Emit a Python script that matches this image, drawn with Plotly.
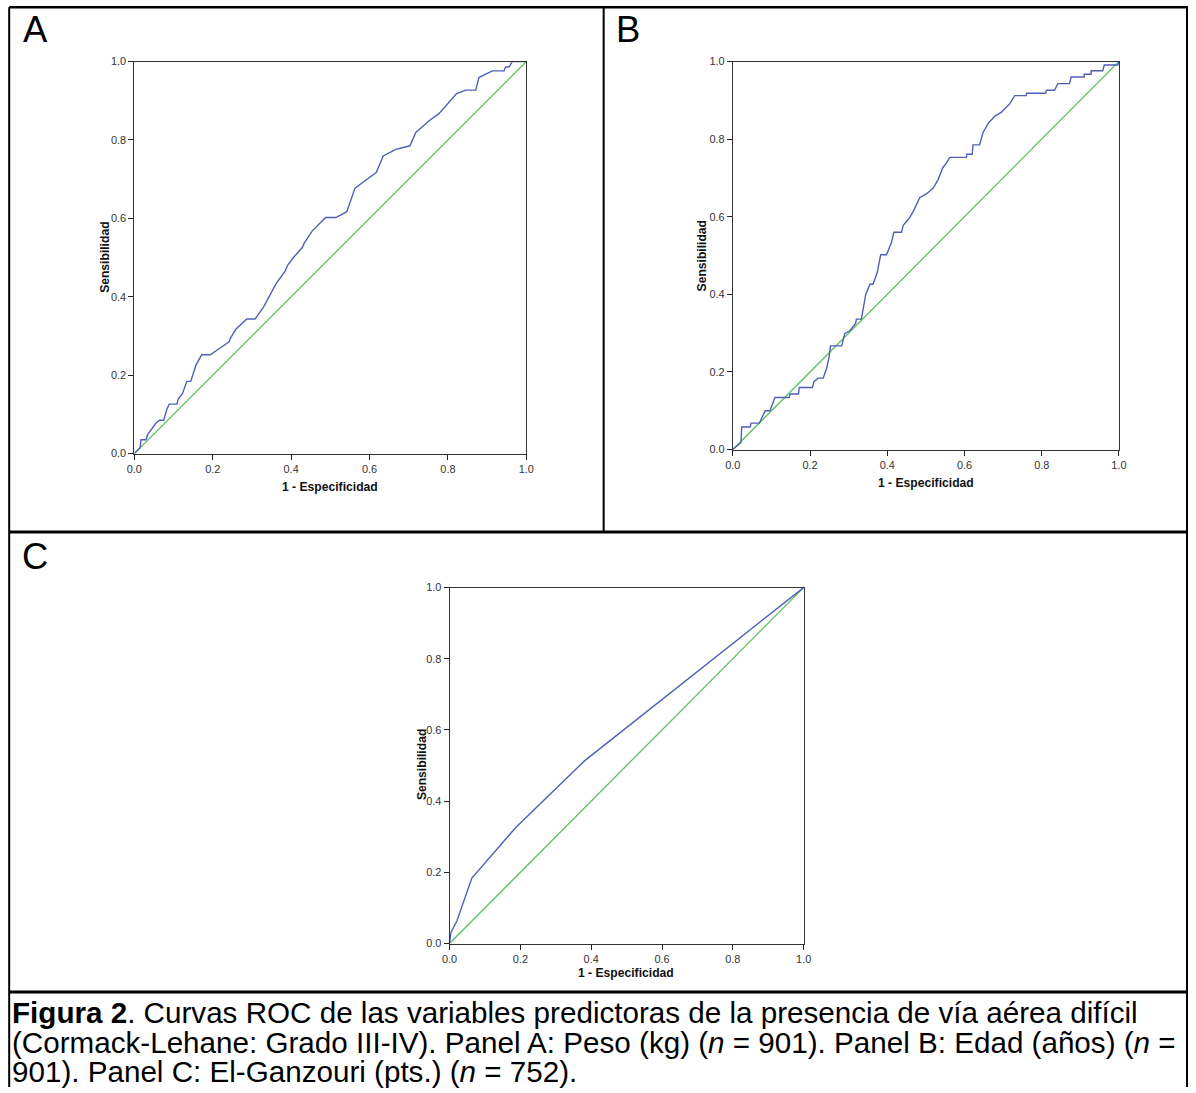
import plotly.graph_objects as go

W, H = 1196, 1093

# ---- data ----
a_fpr = [0.0, 0.008, 0.015, 0.017, 0.030, 0.034, 0.055, 0.064, 0.075, 0.083, 0.089, 0.109, 0.112, 0.123,
         0.134, 0.144, 0.157, 0.172, 0.194, 0.217, 0.242, 0.245, 0.259, 0.287, 0.308, 0.330, 0.361, 0.385,
         0.391, 0.406, 0.429, 0.433, 0.454, 0.488, 0.514, 0.542, 0.563, 0.586, 0.617, 0.635, 0.667, 0.703,
         0.718, 0.752, 0.777, 0.822, 0.845, 0.871, 0.879, 0.913, 0.943, 0.947, 0.956, 0.964, 1.0]
a_tpr = [0.0, 0.007, 0.015, 0.035, 0.035, 0.048, 0.077, 0.085, 0.085, 0.113, 0.126, 0.126, 0.139, 0.153,
         0.184, 0.184, 0.225, 0.252, 0.252, 0.268, 0.285, 0.294, 0.317, 0.343, 0.343, 0.374, 0.432, 0.466,
         0.480, 0.500, 0.526, 0.536, 0.568, 0.602, 0.602, 0.617, 0.677, 0.694, 0.717, 0.759, 0.776, 0.785,
         0.819, 0.849, 0.867, 0.918, 0.927, 0.927, 0.959, 0.976, 0.976, 0.986, 0.986, 1.0, 1.0]

b_fpr = [0.0, 0.021, 0.023, 0.045, 0.047, 0.069, 0.075, 0.084, 0.096, 0.109, 0.146, 0.148, 0.170, 0.172,
         0.206, 0.210, 0.221, 0.234, 0.243, 0.249, 0.253, 0.282, 0.290, 0.303, 0.318, 0.320, 0.333, 0.338,
         0.344, 0.355, 0.363, 0.374, 0.383, 0.398, 0.411, 0.417, 0.437, 0.441, 0.458, 0.469, 0.484, 0.503,
         0.519, 0.531, 0.544, 0.551, 0.562, 0.605, 0.606, 0.620, 0.622, 0.639, 0.648, 0.663, 0.680, 0.695,
         0.708, 0.718, 0.730, 0.760, 0.761, 0.810, 0.812, 0.833, 0.842, 0.872, 0.876, 0.910, 0.910, 0.928,
         0.928, 0.958, 0.962, 0.997, 1.0]
b_tpr = [0.0, 0.018, 0.058, 0.058, 0.068, 0.068, 0.082, 0.100, 0.100, 0.134, 0.134, 0.143, 0.143, 0.160,
         0.160, 0.175, 0.184, 0.184, 0.210, 0.237, 0.267, 0.267, 0.299, 0.306, 0.325, 0.336, 0.336, 0.362,
         0.399, 0.426, 0.426, 0.456, 0.502, 0.502, 0.534, 0.560, 0.560, 0.577, 0.598, 0.617, 0.649, 0.660,
         0.674, 0.694, 0.727, 0.735, 0.753, 0.753, 0.761, 0.761, 0.785, 0.785, 0.817, 0.843, 0.860, 0.869,
         0.881, 0.892, 0.912, 0.912, 0.918, 0.918, 0.926, 0.926, 0.943, 0.943, 0.960, 0.960, 0.967, 0.967,
         0.976, 0.976, 0.991, 0.991, 1.0]

c_fpr = [0.0, 0.004, 0.021, 0.063, 0.187, 0.381, 1.0]
c_tpr = [0.0, 0.031, 0.064, 0.184, 0.326, 0.513, 1.0]

ref_x = [0.0, 1.0]
ref_y = [0.0, 1.0]

tick_vals = [0.0, 0.2, 0.4, 0.6, 0.8, 1.0]
tick_text = ["0.0", "0.2", "0.4", "0.6", "0.8", "1.0"]

x_title = "1 - Especificidad"
y_title = "Sensibilidad"
panel_letters = ["A", "B", "C"]
caption_lines = [
    "<b>Figura 2</b>. Curvas ROC de las variables predictoras de la presencia de vía aérea difícil",
    "(Cormack-Lehane: Grado III-IV). Panel A: Peso (kg) (<i>n</i> = 901). Panel B: Edad (años) (<i>n</i> =",
    "901). Panel C: El-Ganzouri (pts.) (<i>n</i> = 752).",
]

BLUE = "#4F60B6"
GREEN = "#5BC25B"
FONT = "Liberation Sans, Arial, sans-serif"

# the photographed page is shown slightly reduced with a thin white frame;
# positions below are given in target-picture pixels and mapped back here
S = 0.989
OX, OY = 6.4, 5.5


def fx_(X):
    return (X - OX) / S


def fy_(Y):
    return (Y - OY) / S


def px(X):
    return fx_(X) / W


def py(Y):
    return 1 - fy_(Y) / H


def fs(size):
    return size / S


# plot boxes in target pixels: (left, right, top, bottom)
boxes = {
    "A": (133, 526, 61, 453),
    "B": (733, 1120, 61, 449),
    "C": (449, 804, 587, 943),
}

fig = go.Figure()
series = [("A", a_fpr, a_tpr, "x", "y"), ("B", b_fpr, b_tpr, "x2", "y2"), ("C", c_fpr, c_tpr, "x3", "y3")]
for name, sx, sy, xa, ya in series:
    fig.add_trace(go.Scatter(x=ref_x, y=ref_y, mode="lines", xaxis=xa, yaxis=ya,
                             line=dict(color=GREEN, width=1.3), showlegend=False, hoverinfo="skip"))
    fig.add_trace(go.Scatter(x=sx, y=sy, mode="lines", xaxis=xa, yaxis=ya,
                             line=dict(color=BLUE, width=1.4), showlegend=False))

axis_common = dict(range=[0, 1], tickvals=tick_vals, ticktext=tick_text, ticks="outside", ticklen=5,
                   tickwidth=1, tickcolor="#222", showline=True, linecolor="#333", linewidth=1,
                   mirror=True, showgrid=False, zeroline=False, fixedrange=True,
                   tickfont=dict(family=FONT, size=fs(10.8), color="#333"))

layout_axes = {}
for i, (name, _, _, xa, ya) in enumerate(series):
    l, r, t, b = boxes[name]
    suffix = "" if i == 0 else str(i + 1)
    layout_axes["xaxis" + suffix] = dict(axis_common, domain=[px(l), px(r)], anchor="y" + suffix)
    layout_axes["yaxis" + suffix] = dict(axis_common, domain=[py(b), py(t)], anchor="x" + suffix)

annotations = []
title_pos = {
    "A": ((329, 486), (103, 257)),
    "B": ((927, 482), (702, 255)),
    "C": ((626, 972), (421, 764)),
}
for name, ((xx, xy), (yx, yy)) in title_pos.items():
    annotations.append(dict(x=px(xx), y=py(xy), xref="paper", yref="paper", text=f"<b>{x_title}</b>",
                            showarrow=False, xanchor="center", yanchor="middle",
                            font=dict(family=FONT, size=fs(12), color="#111")))
    annotations.append(dict(x=px(yx), y=py(yy), xref="paper", yref="paper", text=f"<b>{y_title}</b>",
                            showarrow=False, xanchor="center", yanchor="middle", textangle=-90,
                            font=dict(family=FONT, size=fs(12), color="#111")))

letter_pos = [(19, 29), (614, 29), (18, 556)]
for letter, (lx, ly) in zip(panel_letters, letter_pos):
    annotations.append(dict(x=px(lx), y=py(ly), xref="paper", yref="paper", text=letter, showarrow=False,
                            xanchor="left", yanchor="middle",
                            font=dict(family=FONT, size=fs(36), color="#000")))

cap_y = [1012, 1042, 1071]
for line, cy in zip(caption_lines, cap_y):
    annotations.append(dict(x=px(8.5), y=py(cy), xref="paper", yref="paper", text=line, showarrow=False,
                            xanchor="left", yanchor="middle",
                            font=dict(family=FONT, size=fs(29.3), color="#000")))

shapes = []


def hline(y_in, x0_in, x1_in, w):
    shapes.append(dict(type="line", xref="paper", yref="paper", x0=x0_in / W, x1=x1_in / W,
                       y0=1 - y_in / H, y1=1 - y_in / H, line=dict(color="#000", width=w)))


def vline(x_in, y0_in, y1_in, w):
    shapes.append(dict(type="line", xref="paper", yref="paper", x0=x_in / W, x1=x_in / W,
                       y0=1 - y0_in / H, y1=1 - y1_in / H, line=dict(color="#000", width=w)))


def clampx(v):
    return min(max(v, 1.2), W - 1.0)


def clampy(v):
    return min(max(v, 1.3), H - 1.0)


hline(clampy(fy_(5.5)), clampx(fx_(5)), W, 2.6)
hline(fy_(531.5), clampx(fx_(5)), W, 3)
hline(fy_(991.5), clampx(fx_(5)), W, 3)
vline(clampx(fx_(5.5)), clampy(fy_(5)), H, 2)
vline(fx_(603.5), clampy(fy_(5)), fy_(531), 2)
vline(clampx(fx_(1193.5)), clampy(fy_(5)), H, 2)

fig.update_layout(
    width=W, height=H, autosize=False,
    margin=dict(l=0, r=0, t=0, b=0),
    paper_bgcolor="white", plot_bgcolor="white",
    showlegend=False,
    annotations=annotations, shapes=shapes,
    **layout_axes,
)

reset_css = (
    "var s=document.createElement('style');"
    "s.textContent='html,body{margin:0!important;padding:0!important;overflow:hidden!important;}"
    "body>div{margin:0!important;padding:0!important;}';"
    "document.head.appendChild(s);"
)

fig.write_html("out.html", config={"displayModeBar": False}, post_script=reset_css)
